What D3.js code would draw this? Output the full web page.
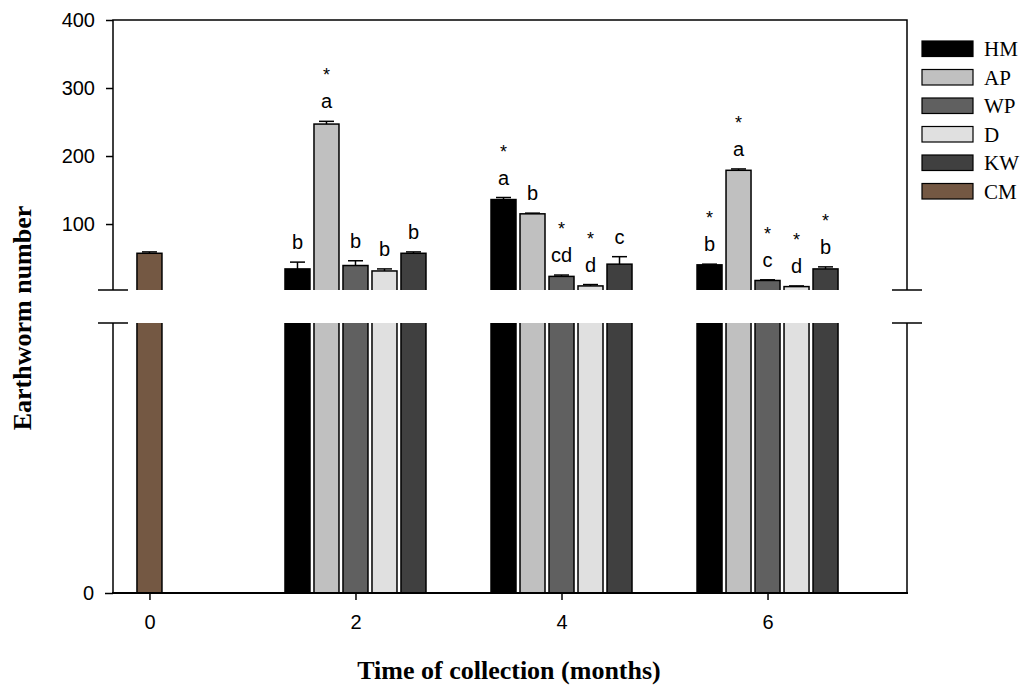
<!DOCTYPE html>
<html>
<head>
<meta charset="utf-8">
<script src="https://cdn.jsdelivr.net/npm/d3@7"></script>
<style>
  html, body { margin: 0; padding: 0; background: #fff; }
  svg { display: block; }
</style>
</head>
<body>
<svg id="chart" width="1027" height="691"></svg>
<script>
// Earthworm counts per treatment over the collection period
const months = [2, 4, 6];
const tickMonths = [0, 2, 4, 6];
const series = ["HM", "AP", "WP", "D", "KW"];
const legendNames = ["HM", "AP", "WP", "D", "KW", "CM"];
const colors = ["#000000", "#c0c0c0", "#606060", "#e0e0e0", "#404040", "#745843"];

const HM = [34, 136, 40];
const AP = [247, 115, 179];
const WP = [39, 23, 17];
const D  = [31, 9, 8];
const KW = [57, 41, 34];

const HM_err = [10, 3, 1];
const AP_err = [4, 1, 2];
const WP_err = [7, 2, 1];
const D_err  = [3, 2, 1];
const KW_err = [2, 11, 3];

// control at month 0
const CM = 57;
const CM_err = 2;

// significance letters and asterisks per treatment (months 2, 4, 6)
const HM_letter = ["b", "a", "b"];
const AP_letter = ["a", "b", "a"];
const WP_letter = ["b", "cd", "c"];
const D_letter  = ["b", "d", "d"];
const KW_letter = ["b", "c", "b"];

const HM_star = [false, true, true];
const AP_star = [true, false, true];
const WP_star = [false, true, true];
const D_star  = [false, true, true];
const KW_star = [false, false, true];

const yTicksUpper = [100, 200, 300, 400];
const yTicksLower = [0];

const values = [HM, AP, WP, D, KW];
const errs = [HM_err, AP_err, WP_err, D_err, KW_err];
const letters = [HM_letter, AP_letter, WP_letter, D_letter, KW_letter];
const stars = [HM_star, AP_star, WP_star, D_star, KW_star];

const rows = [];
months.forEach((m, mi) => {
  series.forEach((s, si) => {
    rows.push({
      month: m, name: s, value: values[si][mi], err: errs[si][mi],
      letter: letters[si][mi], star: stars[si][mi], color: colors[si], grouped: true
    });
  });
});
rows.push({ month: 0, name: "CM", value: CM, err: CM_err, letter: "", star: false, color: colors[5], grouped: false });

const svg = d3.select("#chart");

// layout
const left = 113, right = 907;
const topY = 20, breakTop = 290, breakBottom = 323, bottomY = 593;

const x = d3.scaleLinear().domain([-0.354, 7.354]).range([left, right]);
const inner = d3.scaleBand().domain(series).range([-70.5, 70.5]).paddingInner(4 / 29);
const bw = inner.bandwidth();

const yUp = d3.scaleLinear().domain([3, 400]).range([breakTop, topY]);
const yLow = d3.scaleLinear().domain([0, 3]).range([bottomY, breakBottom]);

const barX = d => d.grouped ? x(d.month) + inner(d.name) : x(d.month) - bw / 2;

// clip regions for the two axis segments
const defs = svg.append("defs");
defs.append("clipPath").attr("id", "clipUp")
  .append("rect").attr("x", 0).attr("y", 0).attr("width", 1027).attr("height", breakTop);
defs.append("clipPath").attr("id", "clipLow")
  .append("rect").attr("x", 0).attr("y", breakBottom).attr("width", 1027).attr("height", bottomY - breakBottom + 1);

// upper segment bars
const gUp = svg.append("g").attr("clip-path", "url(#clipUp)");
gUp.selectAll("rect").data(rows).join("rect")
  .attr("x", barX)
  .attr("y", d => yUp(d.value))
  .attr("width", bw)
  .attr("height", d => breakTop + 10 - yUp(d.value))
  .attr("fill", d => d.color)
  .attr("stroke", "#000")
  .attr("stroke-width", 1.5);

// lower segment bars
const gLow = svg.append("g").attr("clip-path", "url(#clipLow)");
gLow.selectAll("rect").data(rows).join("rect")
  .attr("x", barX)
  .attr("y", breakBottom - 10)
  .attr("width", bw)
  .attr("height", d => yLow(0) - (breakBottom - 10))
  .attr("fill", d => d.color)
  .attr("stroke", "#000")
  .attr("stroke-width", 1.5);

// error bars (upper side)
const capW = 15;
const gErr = svg.append("g").attr("stroke", "#000").attr("stroke-width", 1.5);
rows.forEach(d => {
  const cx = barX(d) + bw / 2;
  gErr.append("line").attr("x1", cx).attr("x2", cx)
    .attr("y1", yUp(d.value)).attr("y2", yUp(d.value + d.err));
  gErr.append("line").attr("x1", cx - capW / 2).attr("x2", cx + capW / 2)
    .attr("y1", yUp(d.value + d.err)).attr("y2", yUp(d.value + d.err));
});

// letters and asterisks
const fontSans = "Arial, 'Liberation Sans', sans-serif";
const gLab = svg.append("g").attr("font-family", fontSans).attr("text-anchor", "middle").attr("fill", "#000");
rows.filter(d => d.letter).forEach(d => {
  const cx = barX(d) + bw / 2;
  const base = yUp(d.value + d.err) - 13;
  gLab.append("text").attr("x", cx).attr("y", base).attr("font-size", 20).text(d.letter);
  if (d.star) {
    gLab.append("text").attr("x", cx).attr("y", base - 27).attr("font-size", 18).text("*");
  }
});

// frame and axes
const axisColor = "#000";
const frame = svg.append("g").attr("stroke", axisColor).attr("fill", "none");
// upper box: left, top, right
frame.append("path").attr("stroke-width", 1.5)
  .attr("d", `M${left},${breakTop}V${topY}H${right}V${breakTop}`);
// lower box: left, right
frame.append("path").attr("stroke-width", 1.5)
  .attr("d", `M${left},${breakBottom}V${bottomY}M${right},${breakBottom}V${bottomY}`);

// break marks
[left, right].forEach(px => {
  frame.append("line").attr("stroke-width", 1.5).attr("x1", px - 15).attr("x2", px + 15).attr("y1", breakTop).attr("y2", breakTop);
  frame.append("line").attr("stroke-width", 1.5).attr("x1", px - 15).attr("x2", px + 15).attr("y1", breakBottom).attr("y2", breakBottom);
});

// y axes
const yAxisUp = svg.append("g").attr("transform", `translate(${left},0)`)
  .call(d3.axisLeft(yUp).tickValues(yTicksUpper).tickFormat(d3.format("d")).tickSize(7).tickPadding(11));
const yAxisLow = svg.append("g").attr("transform", `translate(${left},0)`)
  .call(d3.axisLeft(yLow).tickValues(yTicksLower).tickFormat(d3.format("d")).tickSize(8).tickPadding(11));
[yAxisUp, yAxisLow].forEach(g => {
  g.select(".domain").remove();
  g.selectAll(".tick line").attr("stroke", axisColor).attr("stroke-width", 1.5);
  g.selectAll(".tick text").attr("font-family", fontSans).attr("font-size", 20).attr("fill", "#000");
});

// x axis
const xAxis = svg.append("g").attr("transform", `translate(0,${bottomY})`)
  .call(d3.axisBottom(x).tickValues(tickMonths).tickFormat(d3.format("d")).tickSize(7).tickPadding(15));
xAxis.select(".domain").remove();
xAxis.selectAll(".tick line").attr("stroke", axisColor).attr("stroke-width", 1.5);
xAxis.selectAll(".tick text").attr("font-family", fontSans).attr("font-size", 20).attr("fill", "#000");
svg.append("line").attr("x1", left - 1).attr("x2", right + 1).attr("y1", bottomY).attr("y2", bottomY)
  .attr("stroke", axisColor).attr("stroke-width", 2);

// axis titles
const fontSerif = "'Times New Roman', 'Liberation Serif', serif";
svg.append("text")
  .attr("x", 509).attr("y", 679)
  .attr("text-anchor", "middle")
  .attr("font-family", fontSerif).attr("font-weight", "bold").attr("font-size", 26)
  .text("Time of collection (months)");
svg.append("text")
  .attr("transform", "translate(31,318) rotate(-90)")
  .attr("text-anchor", "middle")
  .attr("font-family", fontSerif).attr("font-weight", "bold").attr("font-size", 26)
  .text("Earthworm number");

// legend
const legend = svg.append("g").attr("transform", "translate(922,41)");
legendNames.forEach((n, i) => {
  const g = legend.append("g").attr("transform", `translate(0,${i * 28.5})`);
  g.append("rect").attr("width", 51).attr("height", 15.5)
    .attr("fill", colors[i]).attr("stroke", "#000").attr("stroke-width", 1.2);
  g.append("text").attr("x", 62).attr("y", 15)
    .attr("font-family", fontSerif).attr("font-size", 21).attr("fill", "#000").text(n);
});
</script>
</body>
</html>
